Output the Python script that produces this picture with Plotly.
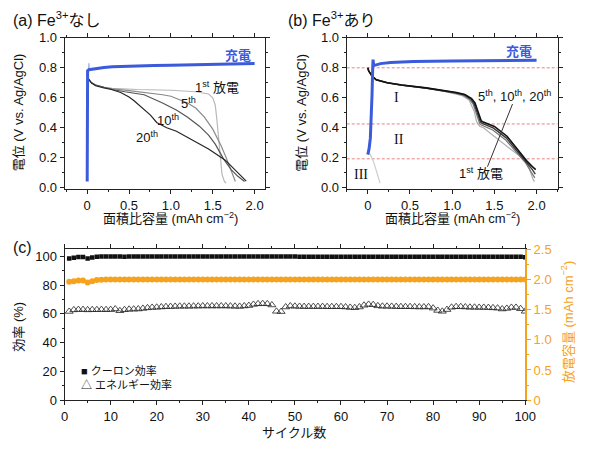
import plotly.graph_objects as go

# ---- panel (a): no Fe3+ ----
a_charge_x = [0, 0, 0.005, 0.02, 0.05, 0.1, 0.2, 0.3, 0.5, 0.8, 1.0, 1.3, 1.6, 2.0]
a_charge_y = [0.04, 0.5, 0.78, 0.787, 0.79, 0.796, 0.802, 0.807, 0.812, 0.815, 0.817, 0.82, 0.824, 0.828]
a_spike_x = [0.015, 0.02, 0.025, 0.03]
a_spike_y = [0.79, 0.83, 0.80, 0.79]

a_d1_x = [0, 0.01, 0.05, 0.1, 0.2, 0.3, 0.6, 1.0, 1.3, 1.45, 1.5, 1.53, 1.55, 1.57, 1.59, 1.61, 1.64, 1.66]
a_d1_y = [0.76, 0.73, 0.70, 0.685, 0.67, 0.663, 0.655, 0.65, 0.64, 0.625, 0.60, 0.55, 0.45, 0.33, 0.2, 0.09, 0.04, 0.03]
a_d5_x = [0, 0.01, 0.05, 0.1, 0.2, 0.3, 0.5, 0.7, 0.9, 1.0, 1.2, 1.3, 1.4, 1.5, 1.6, 1.66, 1.7, 1.74, 1.77]
a_d5_y = [0.76, 0.73, 0.70, 0.685, 0.67, 0.66, 0.648, 0.635, 0.62, 0.61, 0.565, 0.53, 0.47, 0.39, 0.28, 0.2, 0.14, 0.08, 0.04]
a_d10_x = [0, 0.01, 0.05, 0.1, 0.2, 0.3, 0.45, 0.68, 0.9, 1.07, 1.2, 1.34, 1.45, 1.53, 1.63, 1.72, 1.8, 1.88]
a_d10_y = [0.76, 0.73, 0.70, 0.685, 0.67, 0.655, 0.64, 0.62, 0.565, 0.516, 0.47, 0.41, 0.35, 0.29, 0.19, 0.12, 0.075, 0.04]
a_d20_x = [0, 0.01, 0.05, 0.1, 0.2, 0.29, 0.4, 0.5, 0.56, 0.65, 0.756, 0.83, 0.95, 1.066, 1.25, 1.45, 1.65, 1.78, 1.9]
a_d20_y = [0.76, 0.73, 0.70, 0.68, 0.665, 0.655, 0.635, 0.605, 0.58, 0.535, 0.484, 0.435, 0.40, 0.376, 0.32, 0.258, 0.183, 0.11, 0.043]

# ---- panel (b): with Fe3+ ----
b_charge_x = [0, 0.015, 0.03, 0.04, 0.05, 0.058, 0.062, 0.07, 0.1, 0.15, 0.27, 0.54, 1.0, 1.5, 2.0]
b_charge_y = [0.22, 0.26, 0.33, 0.45, 0.62, 0.80, 0.855, 0.815, 0.82, 0.828, 0.835, 0.843, 0.846, 0.848, 0.85]
b_pre_x = [0, 0.03, 0.07, 0.1, 0.13, 0.145]
b_pre_y = [0.24, 0.22, 0.17, 0.11, 0.05, 0.03]

b_d20_x = [0, 0.01, 0.05, 0.1, 0.23, 0.4, 0.69, 0.9, 1.05, 1.15, 1.23, 1.27, 1.3, 1.325, 1.345, 1.36, 1.4, 1.5, 1.65, 1.785, 1.88, 1.95, 1.99]
b_d20_y = [0.80, 0.78, 0.745, 0.72, 0.70, 0.685, 0.666, 0.65, 0.635, 0.622, 0.595, 0.565, 0.52, 0.47, 0.445, 0.44, 0.43, 0.408, 0.343, 0.246, 0.18, 0.14, 0.12]
b_d10_x = [0, 0.01, 0.05, 0.1, 0.23, 0.4, 0.69, 0.9, 1.04, 1.14, 1.22, 1.26, 1.29, 1.315, 1.335, 1.35, 1.39, 1.49, 1.64, 1.78, 1.88, 1.95, 1.985]
b_d10_y = [0.80, 0.78, 0.745, 0.72, 0.70, 0.685, 0.665, 0.648, 0.633, 0.62, 0.592, 0.56, 0.51, 0.46, 0.437, 0.43, 0.42, 0.397, 0.332, 0.238, 0.17, 0.12, 0.09]
b_d5_x = [0, 0.01, 0.05, 0.1, 0.23, 0.4, 0.69, 0.9, 1.03, 1.13, 1.21, 1.25, 1.28, 1.305, 1.325, 1.34, 1.38, 1.48, 1.63, 1.77, 1.87, 1.94, 1.98]
b_d5_y = [0.80, 0.78, 0.745, 0.72, 0.70, 0.684, 0.664, 0.646, 0.63, 0.617, 0.588, 0.555, 0.5, 0.45, 0.428, 0.42, 0.41, 0.385, 0.32, 0.23, 0.165, 0.1, 0.065]
b_d1_x = [0, 0.01, 0.05, 0.1, 0.23, 0.4, 0.69, 0.9, 1.02, 1.12, 1.2, 1.23, 1.26, 1.29, 1.31, 1.325, 1.37, 1.5, 1.69, 1.8, 1.9, 1.96, 1.975]
b_d1_y = [0.80, 0.78, 0.745, 0.72, 0.70, 0.683, 0.662, 0.644, 0.628, 0.614, 0.585, 0.55, 0.51, 0.44, 0.42, 0.41, 0.40, 0.34, 0.257, 0.21, 0.15, 0.053, 0.04]
b_ref_levels = [0.80, 0.425, 0.192]

# ---- panel (c): cycling ----
cycles = list(range(1, 101))
coulomb_eff = [98.5, 99.0, 99.5, 99.6, 98.6, 99.2, 99.8, 100.0, 100.0, 99.9,
               100.0, 99.9, 99.8, 99.9, 99.9, 99.9, 99.9, 99.9, 99.9, 99.9,
               99.9, 99.9, 99.9, 99.9, 99.9, 99.9, 99.9, 99.9, 99.9, 99.9,
               99.9, 99.9, 99.9, 99.9, 99.9, 99.9, 99.9, 99.9, 99.9, 99.9,
               99.9, 99.9, 99.9, 99.9, 99.9, 99.9, 99.9, 99.9, 99.9, 99.9,
               99.8, 99.8, 99.8, 99.8, 99.8, 99.8, 99.8, 99.8, 99.8, 99.8,
               99.8, 99.8, 99.8, 99.8, 99.8, 99.8, 99.8, 99.8, 99.8, 99.8,
               99.8, 99.8, 99.8, 99.8, 99.8, 99.8, 99.8, 99.8, 99.8, 99.8,
               99.8, 99.8, 99.8, 99.8, 99.8, 99.8, 99.8, 99.8, 99.8, 99.8,
               99.8, 99.8, 99.8, 99.8, 99.8, 99.8, 99.8, 99.8, 99.7, 99.4]
energy_eff = [61.7, 62.8, 63.0, 63.0, 62.8, 62.9, 62.9, 63.0, 62.9, 63.0,
              63.4, 62.2, 62.9, 63.2, 63.3, 63.4, 63.8, 64.2, 64.5, 64.6,
              64.8, 65.0, 65.1, 65.2, 65.3, 65.3, 65.3, 65.4, 65.4, 65.5,
              65.5, 65.5, 65.5, 65.5, 65.5, 65.4, 65.3, 65.2, 65.5, 65.8,
              66.6, 67.0, 67.1, 67.0, 66.2, 61.8, 61.6, 64.8, 65.5, 65.3,
              65.2, 65.1, 65.1, 65.1, 65.1, 65.1, 65.0, 65.0, 65.0, 65.0,
              64.8, 64.5, 64.3, 64.8, 66.0, 66.6, 66.4, 65.6, 65.3, 65.3,
              65.2, 65.1, 65.0, 65.0, 65.0, 64.9, 64.8, 64.8, 64.9, 64.0,
              62.4, 61.8, 63.0, 64.6, 65.0, 65.0, 64.8, 64.6, 64.6, 64.5,
              64.5, 64.4, 64.2, 64.0, 63.4, 63.8, 64.5, 64.5, 63.6, 61.8]
capacity = [1.96, 1.97, 1.98, 1.98, 1.95, 1.97, 1.99, 1.995, 2.0, 2.0] + [2.0] * 90

FONT = "Liberation Sans, Noto Sans CJK JP, sans-serif"
BLUE = "#3b5bdb"
ORANGE = "#f5a21e"
RED = "#e88080"
INK = "#111111"

# page has an 8px body margin, so the figure is 16px smaller than the window
W, H, PAD = 574, 433, 8


def px(X):
    return (X - PAD) / W


def py(Y):
    return 1 - (Y - PAD) / H


fig = go.Figure()


def line(x, y, color, width, xa, ya):
    fig.add_trace(go.Scatter(x=x, y=y, mode="lines", xaxis=xa, yaxis=ya,
                             line=dict(color=color, width=width), showlegend=False,
                             hoverinfo="skip"))


# (a)
line(a_d1_x, a_d1_y, "#b8b8b8", 1.2, "x", "y")
line(a_d5_x, a_d5_y, "#8a8a8a", 1.2, "x", "y")
line(a_d10_x, a_d10_y, "#555555", 1.2, "x", "y")
line(a_d20_x, a_d20_y, "#252525", 1.2, "x", "y")
line(a_spike_x, a_spike_y, "#a8b4e8", 1, "x", "y")
line(a_charge_x, a_charge_y, BLUE, 3, "x", "y")

# (b)
for yv in b_ref_levels:
    fig.add_shape(type="line", xref="x2", yref="y2", x0=-0.25, x1=2.25, y0=yv, y1=yv,
                  line=dict(color=RED, width=1, dash="3px,2px"), layer="below")
line(b_pre_x, b_pre_y, "#cccccc", 1.2, "x2", "y2")
line(b_d1_x, b_d1_y, "#b0b0b0", 1.2, "x2", "y2")
line(b_d5_x, b_d5_y, "#777777", 1.2, "x2", "y2")
line(b_d10_x, b_d10_y, "#3a3a3a", 1.4, "x2", "y2")
line(b_d20_x, b_d20_y, "#111111", 1.6, "x2", "y2")
line(b_charge_x, b_charge_y, BLUE, 3, "x2", "y2")
fig.add_shape(type="line", xref="x2", yref="y2", x0=1.715, y0=0.558, x1=1.418, y1=0.139,
              line=dict(color="#333333", width=1))

# (c)
fig.add_trace(go.Scatter(x=cycles, y=energy_eff, mode="markers", xaxis="x3", yaxis="y3",
                         marker=dict(symbol="triangle-up-open", size=7, color="#222222",
                                     line=dict(width=0.8)),
                         name="エネルギー効率", showlegend=False))
fig.add_trace(go.Scatter(x=cycles, y=coulomb_eff, mode="markers", xaxis="x3", yaxis="y3",
                         marker=dict(symbol="square", size=4.5, color=INK),
                         name="クーロン効率", showlegend=False))
fig.add_trace(go.Scatter(x=cycles, y=capacity, mode="markers", xaxis="x3", yaxis="y4",
                         marker=dict(symbol="circle", size=6, color=ORANGE),
                         name="放電容量", showlegend=False))

tick_font = dict(family=FONT, size=13, color=INK)
frame = dict(showline=True, linecolor="#222222", linewidth=1, mirror="ticks",
             ticks="outside", ticklen=4, tickcolor="#222222", tickfont=tick_font,
             showgrid=False, zeroline=False)
top_x = dict(frame, range=[-0.27, 2.13], tickvals=[0, 0.5, 1.0, 1.5, 2.0],
             ticktext=["0", "0.5", "1.0", "1.5", "2.0"],
             minor=dict(ticks="outside", ticklen=2, dtick=0.25, tick0=0, tickcolor="#222222"))
top_y = dict(frame, range=[-0.01, 1.0], tickvals=[0, 0.2, 0.4, 0.6, 0.8, 1.0],
             ticktext=["0.0", "0.2", "0.4", "0.6", "0.8", "1.0"],
             minor=dict(ticks="outside", ticklen=2, dtick=0.1, tick0=0, tickcolor="#222222"))

fig.update_layout(
    width=W, height=H,
    margin=dict(l=0, r=0, t=0, b=0),
    paper_bgcolor="white", plot_bgcolor="white",
    font=dict(family=FONT, size=13, color=INK),
    xaxis=dict(top_x, domain=[px(62), px(268.3)], anchor="y"),
    yaxis=dict(top_y, domain=[py(188.3), py(31.7)], anchor="x"),
    xaxis2=dict(top_x, range=[-0.25, 2.25], domain=[px(351.7), px(568.3)], anchor="y2"),
    yaxis2=dict(top_y, domain=[py(188.3), py(31.7)], anchor="x2"),
    xaxis3=dict(frame, range=[0, 100], dtick=10, domain=[px(62), px(535)], anchor="y3",
                minor=dict(ticks="outside", ticklen=2, dtick=5, tickcolor="#222222")),
    yaxis3=dict(frame, mirror=False, range=[0, 105.4], dtick=20,
                domain=[py(407), py(250)], anchor="x3",
                minor=dict(ticks="outside", ticklen=2, dtick=10, tickcolor="#222222")),
    yaxis4=dict(range=[0, 2.51], overlaying="y3", side="right", anchor="x3",
                showline=True, linecolor=ORANGE, linewidth=1.5, showgrid=False, zeroline=False,
                ticks="outside", ticklen=4, tickcolor=ORANGE,
                tickvals=[0, 0.5, 1.0, 1.5, 2.0, 2.5],
                ticktext=["0", "0.5", "1.0", "1.5", "2.0", "2.5"],
                tickfont=dict(family=FONT, size=13, color=ORANGE),
                minor=dict(ticks="outside", ticklen=2, dtick=0.25, tickcolor=ORANGE)),
)

ann = []


def text(x, y, s, xref="paper", yref="paper", size=13, color=INK, angle=0,
         xanchor="center", family=FONT, bold=False):
    if bold:
        s = "<b>" + s + "</b>"
    ann.append(dict(x=x, y=y, xref=xref, yref=yref, text=s, showarrow=False,
                    font=dict(family=family, size=size, color=color), textangle=angle,
                    xanchor=xanchor, yanchor="middle", borderpad=0))


# panel titles
text(px(8), py(12), "(a) Fe<sup>3+</sup>なし", size=16, xanchor="left")
text(px(290), py(12), "(b) Fe<sup>3+</sup>あり", size=16, xanchor="left")
text(px(8), py(249), "(c)", size=16, xanchor="left")

# axis titles
xt = "面積比容量 (mAh cm<sup>−2</sup>)"
yt = "電位 (V vs. Ag/AgCl)"
text(px(171), py(218), xt)
text(px(460), py(218), xt)
text(px(15), py(109), yt, angle=-90)
text(px(305), py(109), yt, angle=-90)
text(px(15), py(331), "効率 (%)", angle=-90)
text(px(578), py(326), "放電容量 (mAh cm<sup>−2</sup>)", angle=-90, color=ORANGE)
text(px(298), py(440), "サイクル数")

# in-plot labels (a)
text(1.80, 0.88, "充電", "x", "y", color=BLUE, bold=True)
text(1.55, 0.675, "1<sup>st</sup> 放電", "x", "y")
text(1.21, 0.565, "5<sup>th</sup>", "x", "y")
text(0.97, 0.45, "10<sup>th</sup>", "x", "y")
text(0.72, 0.335, "20<sup>th</sup>", "x", "y")

# in-plot labels (b)
text(1.79, 0.91, "充電", "x2", "y2", color=BLUE, bold=True)
text(1.74, 0.615, "5<sup>th</sup>, 10<sup>th</sup>, 20<sup>th</sup>", "x2", "y2")
text(1.34, 0.10, "1<sup>st</sup> 放電", "x2", "y2")
text(0.345, 0.60, "I", "x2", "y2", family="Liberation Serif, serif", size=14)
text(0.375, 0.32, "II", "x2", "y2", family="Liberation Serif, serif", size=14)
text(-0.08, 0.085, "III", "x2", "y2", family="Liberation Serif, serif", size=14)

# legend (c)
text(px(78), py(377), "■ クーロン効率", size=11, xanchor="left")
text(px(78), py(391), "△ エネルギー効率", size=11, xanchor="left")

fig.update_layout(annotations=ann)
fig.write_html("out.html")
